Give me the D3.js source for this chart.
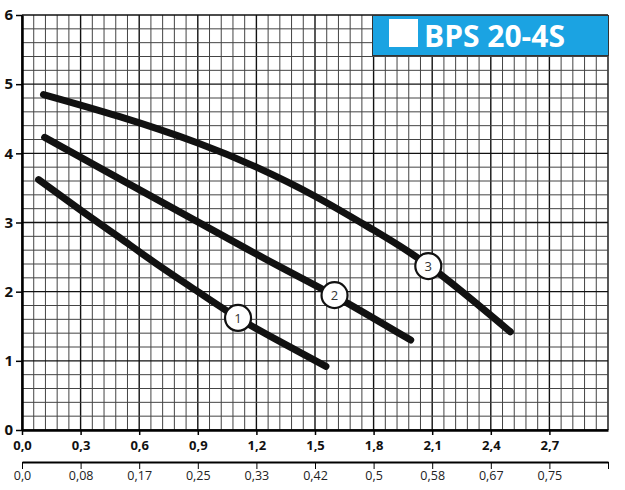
<!DOCTYPE html>
<html>
<head>
<meta charset="utf-8">
<script src="https://cdn.jsdelivr.net/npm/d3@7"></script>
<style>
  html, body { margin: 0; padding: 0; background: #fff; }
  svg { display: block; }
</style>
</head>
<body>
<svg id="chart" width="625" height="490"></svg>
<script>
// ---- data ----
const title = "BPS 20-4S";
const qTicks = [0, 0.3, 0.6, 0.9, 1.2, 1.5, 1.8, 2.1, 2.4, 2.7];
const qTickLabels = ["0,0", "0,3", "0,6", "0,9", "1,2", "1,5", "1,8", "2,1", "2,4", "2,7"];
const lsTickLabels = ["0,0", "0,08", "0,17", "0,25", "0,33", "0,42", "0,5", "0,58", "0,67", "0,75", ""];
const hTicks = [0, 1, 2, 3, 4, 5, 6];
const hTickLabels = ["0", "1", "2", "3", "4", "5", "6"];

const curve1Q = [0.085, 0.3, 0.5, 0.7, 0.9, 1.1, 1.3, 1.556];
const curve1H = [3.62, 3.18, 2.78, 2.38, 2.0, 1.63, 1.31, 0.92];
const curve2Q = [0.116, 0.5, 0.9, 1.3, 1.6, 1.99];
const curve2H = [4.23, 3.63, 3.01, 2.39, 1.94, 1.30];
const curve3Q = [0.11, 0.5, 0.9, 1.2, 1.5, 1.8, 2.1, 2.5];
const curve3H = [4.85, 4.53, 4.15, 3.80, 3.38, 2.89, 2.34, 1.42];

const labelNames = ["1", "2", "3"];
const labelQ = [1.106, 1.60, 2.08];
const labelH = [1.62, 1.95, 2.37];

// ---- layout ----
const svg = d3.select("#chart");
const L = 22, R = 608, T = 15, B = 430;
const x = d3.scaleLinear().domain([0, 3.0]).range([L, R]);
const y = d3.scaleLinear().domain([0, 6]).range([B, T]);

// grid
const grid = svg.append("g");
const minorQ = d3.range(0, 51).map(i => i * 0.06);
const minorH = d3.range(0, 31).map(i => i * 0.2);
grid.selectAll("line.v").data(minorQ).join("line")
  .attr("x1", d => x(d)).attr("x2", d => x(d))
  .attr("y1", T).attr("y2", B)
  .attr("stroke", (d, i) => i % 5 === 0 ? "#111" : "#444")
  .attr("stroke-width", (d, i) => i % 5 === 0 ? 1.4 : 1);
grid.selectAll("line.h").data(minorH).join("line")
  .attr("x1", L).attr("x2", R)
  .attr("y1", d => y(d)).attr("y2", d => y(d))
  .attr("stroke", (d, i) => i % 5 === 0 ? "#111" : "#444")
  .attr("stroke-width", (d, i) => i % 5 === 0 ? 1.4 : 1);

// axes
const xAxis = d3.axisBottom(x).tickValues(qTicks)
  .tickFormat((d, i) => qTickLabels[i]).tickSize(5).tickSizeOuter(0);
const gx = svg.append("g").attr("transform", `translate(0,${B})`).call(xAxis);
gx.select(".domain").attr("stroke", "#000").attr("stroke-width", 2.5);
gx.selectAll(".tick line").attr("stroke", "#000").attr("stroke-width", 1.5);
gx.selectAll(".tick text").attr("font-family", "'Open Sans', sans-serif")
  .attr("font-weight", "bold").attr("font-size", 13).attr("fill", "#111").attr("dy", "0.95em");

const yAxis = d3.axisLeft(y).tickValues(hTicks)
  .tickFormat((d, i) => hTickLabels[i]).tickSize(6).tickSizeOuter(0);
const gy = svg.append("g").attr("transform", `translate(${L},0)`).call(yAxis);
gy.select(".domain").attr("stroke", "#000").attr("stroke-width", 2.5);
gy.selectAll(".tick line").attr("stroke", "#000").attr("stroke-width", 1.5);
gy.selectAll(".tick text").attr("font-family", "'Open Sans', sans-serif")
  .attr("font-weight", "bold").attr("font-size", 15).attr("fill", "#111").attr("x", -9);

// secondary (l/s) axis
const lsTicks = qTicks.concat([3.0]);
const xAxis2 = d3.axisBottom(x).tickValues(lsTicks)
  .tickFormat((d, i) => lsTickLabels[i]).tickSize(7).tickSizeOuter(0);
const gx2 = svg.append("g").attr("transform", "translate(0,462)").call(xAxis2);
gx2.select(".domain").attr("stroke", "#000").attr("stroke-width", 2.2);
gx2.selectAll(".tick line").attr("stroke", "#000").attr("stroke-width", 1);
gx2.selectAll(".tick text").attr("font-family", "'Open Sans', sans-serif")
  .attr("font-size", 12.5).attr("fill", "#222").attr("dy", "0.6em");

// curves
const line = d3.line().x(d => x(d[0])).y(d => y(d[1])).curve(d3.curveNatural);
const curves = [
  d3.zip(curve1Q, curve1H),
  d3.zip(curve2Q, curve2H),
  d3.zip(curve3Q, curve3H)
];
svg.append("g").selectAll("path").data(curves).join("path")
  .attr("d", line)
  .attr("fill", "none").attr("stroke", "#111")
  .attr("stroke-width", 7).attr("stroke-linecap", "round");

// curve labels
const lg = svg.append("g").selectAll("g").data(labelNames).join("g")
  .attr("transform", (d, i) => `translate(${x(labelQ[i])},${y(labelH[i])})`);
lg.append("circle").attr("r", 13).attr("fill", "#fff")
  .attr("stroke", "#111").attr("stroke-width", 2.2);
lg.append("text").text(d => d)
  .attr("text-anchor", "middle").attr("dy", "0.36em")
  .attr("font-family", "'Open Sans', sans-serif").attr("font-size", 13).attr("fill", "#333");

// title box
const tb = svg.append("g");
tb.append("rect").attr("x", 372.5).attr("y", 15.5).attr("width", 236).attr("height", 40)
  .attr("fill", "#1ba3e2").attr("stroke", "#333").attr("stroke-width", 1);
tb.append("rect").attr("x", 389).attr("y", 19).attr("width", 29).attr("height", 28).attr("fill", "#fff");
tb.append("text").text(title).attr("x", 424).attr("y", 47)
  .attr("font-family", "'Open Sans', sans-serif").attr("font-weight", "bold")
  .attr("font-size", 30).attr("fill", "#fff");
</script>
</body>
</html>
